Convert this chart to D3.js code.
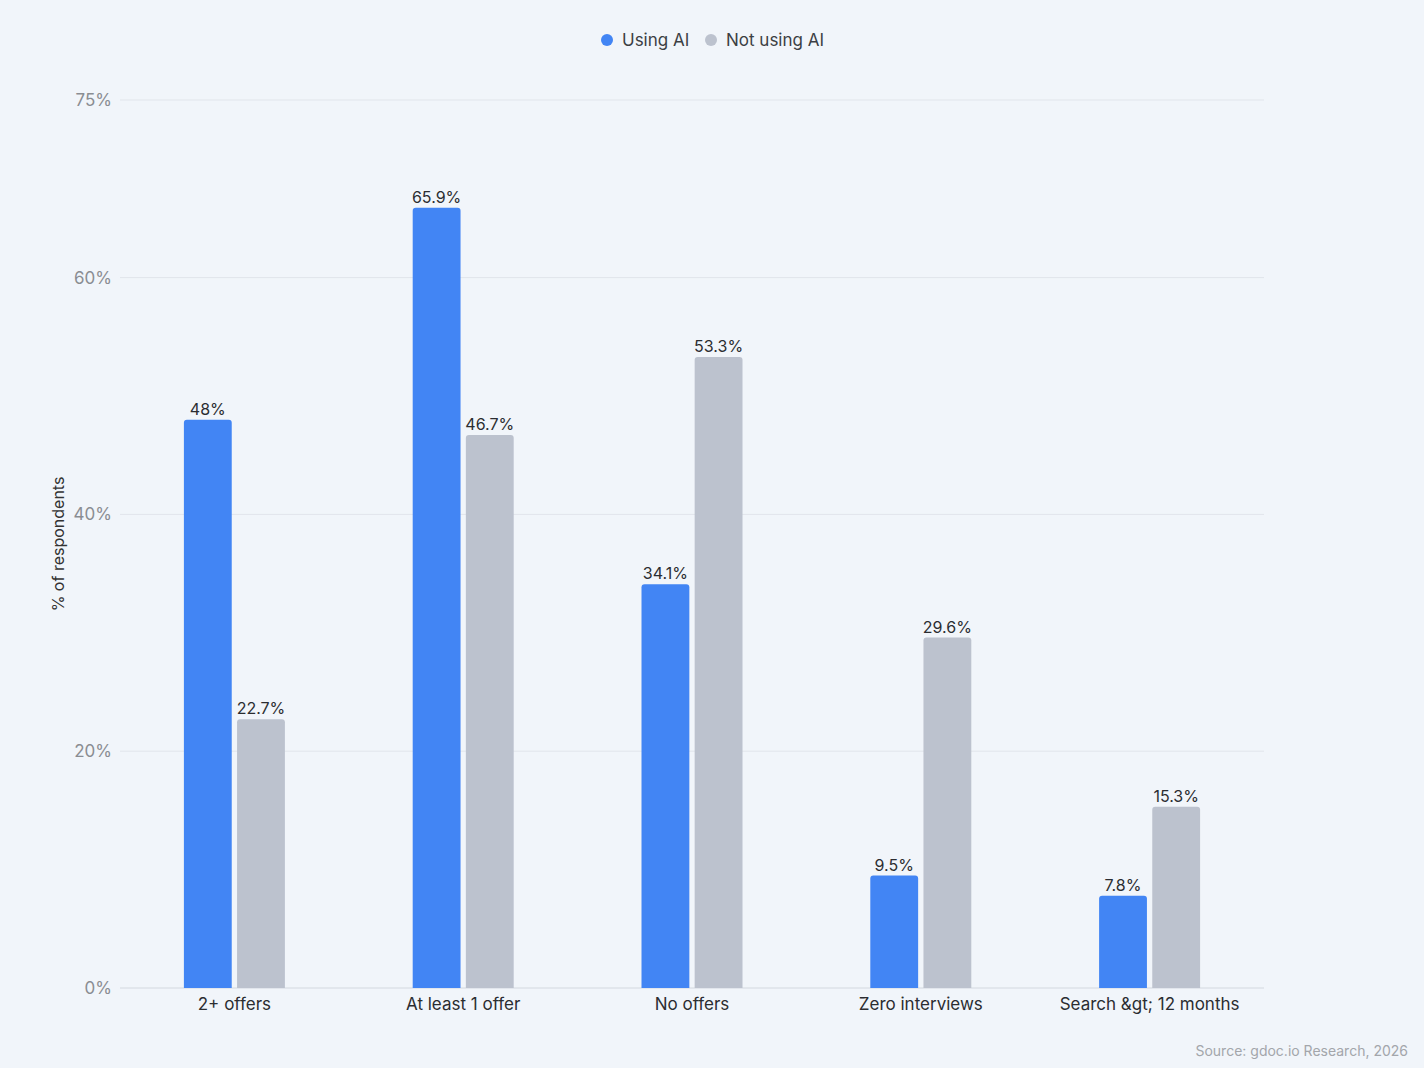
<!DOCTYPE html>
<html>
<head>
<meta charset="utf-8">
<script src="https://cdn.jsdelivr.net/npm/d3@7"></script>
<style>
  body { margin: 0; background: #f1f5fa; }
  svg { display: block; font-family: Inter, Roboto, "Noto Sans", sans-serif; }
</style>
</head>
<body>
<svg id="chart" width="1424" height="1068"></svg>
<script>
// --- data ---
const categories = ['2+ offers', 'At least 1 offer', 'No offers', 'Zero interviews', 'Search &gt; 12 months'];
const seriesNames = ['Using AI', 'Not using AI'];
const usingAI = [48, 65.9, 34.1, 9.5, 7.8];
const notUsingAI = [22.7, 46.7, 53.3, 29.6, 15.3];
const yTicks = [0, 20, 40, 60, 75];
const colors = ['#4285f4', '#bcc2ce'];

const svg = d3.select('#chart');
const margin = { top: 100, right: 160, bottom: 80, left: 120 };
const width = 1424, height = 1068;

const x = d3.scaleBand().domain(categories).range([margin.left, width - margin.right]);
const xInner = d3.scaleBand().domain(seriesNames).range([0, 101]).paddingInner(0.1);
const y = d3.scaleLinear().domain([0, 75]).range([height - margin.bottom, margin.top]);

// gridlines
svg.append('g').selectAll('line')
  .data(yTicks)
  .join('line')
  .attr('x1', margin.left).attr('x2', width - margin.right)
  .attr('y1', d => y(d)).attr('y2', d => y(d))
  .attr('stroke', d => d === 0 ? '#d3d8df' : '#e1e5eb')
  .attr('stroke-width', 1);

// y tick labels
svg.append('g').selectAll('text')
  .data(yTicks)
  .join('text')
  .attr('x', 112).attr('y', d => y(d))
  .attr('dy', '0.35em')
  .attr('text-anchor', 'end')
  .attr('fill', '#8a8d92')
  .attr('font-size', 17)
  .text(d => d + '%');

// y axis title
svg.append('text')
  .attr('transform', `translate(64,${(margin.top + height - margin.bottom) / 2}) rotate(-90)`)
  .attr('text-anchor', 'middle')
  .attr('fill', '#333')
  .attr('font-size', 16)
  .text('% of respondents');

// bars
const rows = categories.map((c, i) => ({ cat: c, values: [usingAI[i], notUsingAI[i]] }));

function barPath(x0, w, yTop, yBase, r) {
  r = Math.min(r, yBase - yTop);
  return `M${x0},${yBase}V${yTop + r}Q${x0},${yTop} ${x0 + r},${yTop}H${x0 + w - r}Q${x0 + w},${yTop} ${x0 + w},${yTop + r}V${yBase}Z`;
}

const groups = svg.append('g').selectAll('g')
  .data(rows)
  .join('g')
  .attr('transform', d => `translate(${x(d.cat) + (x.bandwidth() - 101) / 2},0)`);

groups.selectAll('path')
  .data(d => d.values.map((v, i) => ({ s: seriesNames[i], v, i })))
  .join('path')
  .attr('d', d => barPath(xInner(d.s), xInner.bandwidth(), y(d.v), y(0), 3))
  .attr('fill', d => colors[d.i]);

groups.selectAll('text')
  .data(d => d.values.map((v, i) => ({ s: seriesNames[i], v, i })))
  .join('text')
  .attr('x', d => xInner(d.s) + xInner.bandwidth() / 2)
  .attr('y', d => y(d.v) - 5)
  .attr('text-anchor', 'middle')
  .attr('fill', '#2b2d31')
  .attr('font-size', 16)
  .text(d => d.v + '%');

// category labels
svg.append('g').selectAll('text')
  .data(categories)
  .join('text')
  .attr('x', d => x(d) + x.bandwidth() / 2)
  .attr('y', height - margin.bottom + 22)
  .attr('text-anchor', 'middle')
  .attr('fill', '#2b2d31')
  .attr('font-size', 17)
  .text(d => d);

// legend
const legend = svg.append('g').attr('transform', 'translate(600,40)');
const legendX = [0, 104];
seriesNames.forEach((name, i) => {
  const g = legend.append('g').attr('transform', `translate(${legendX[i]},0)`);
  g.append('circle').attr('cx', 7).attr('cy', 0).attr('r', 6).attr('fill', colors[i]);
  g.append('text').attr('x', 22).attr('y', 0).attr('dy', '0.35em')
    .attr('fill', '#3c3f44').attr('font-size', 17).text(name);
});

// source
svg.append('text')
  .attr('x', 1408).attr('y', 1056)
  .attr('text-anchor', 'end')
  .attr('fill', '#a3a6ab')
  .attr('font-size', 14)
  .text('Source: gdoc.io Research, 2026');
</script>
</body>
</html>
